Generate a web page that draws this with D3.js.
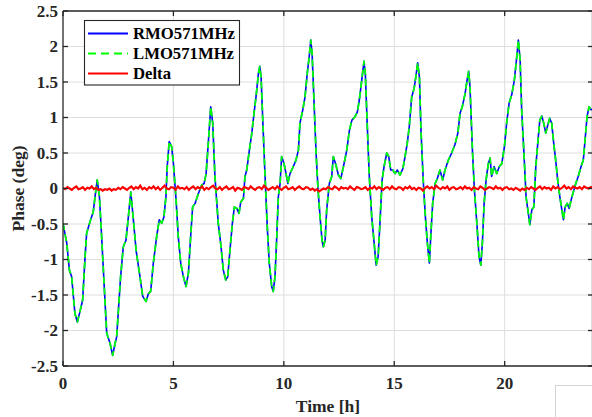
<!DOCTYPE html>
<html>
<head>
<meta charset="utf-8">
<script src="https://cdn.jsdelivr.net/npm/d3@7"></script>
<style>
  html, body { margin: 0; padding: 0; background: #fff; }
  svg { display: block; }
</style>
</head>
<body>
<svg id="chart" width="592" height="417"></svg>
<script>
// ---- data ----
const seriesNames = ["RMO571MHz", "LMO571MHz", "Delta"];
const xTicks = [0, 5, 10, 15, 20];
const yTicks = [-2.5, -2, -1.5, -1, -0.5, 0, 0.5, 1, 1.5, 2, 2.5];
const yTickLabels = ["-2.5", "-2", "-1.5", "-1", "-0.5", "0", "0.5", "1", "1.5", "2", "2.5"];

const phaseHours = [
  0.00,0.17,0.29,0.39,0.54,0.65,0.77,0.89,1.00,1.07,1.25,1.37,1.45,1.55,1.65,1.75,1.86,1.98,2.13,2.25,
  2.36,2.43,2.51,2.61,2.73,2.85,2.96,3.07,3.16,3.31,3.46,3.61,3.76,3.87,3.97,4.09,4.24,4.36,4.47,4.57,
  4.66,4.72,4.81,4.92,5.00,5.12,5.22,5.33,5.45,5.57,5.68,5.78,5.87,5.98,6.13,6.28,6.39,6.48,6.58,6.69,
  6.78,6.88,7.03,7.14,7.26,7.37,7.46,7.56,7.67,7.76,7.87,7.97,8.05,8.17,8.24,8.32,8.44,8.55,8.65,8.74,
  8.85,8.91,8.97,9.04,9.15,9.25,9.34,9.45,9.52,9.60,9.68,9.75,9.83,9.90,10.01,10.10,10.18,10.28,10.43,10.55,
  10.66,10.73,10.86,10.96,11.06,11.15,11.22,11.28,11.37,11.46,11.55,11.64,11.73,11.79,11.87,11.94,12.06,12.17,12.24,12.36,
  12.47,12.58,12.70,12.85,12.97,13.08,13.22,13.33,13.42,13.53,13.63,13.69,13.78,13.87,13.98,14.09,14.18,14.27,14.36,14.45,
  14.54,14.66,14.75,14.84,14.93,15.04,15.14,15.26,15.39,15.49,15.59,15.68,15.79,15.90,15.99,16.06,16.14,16.21,16.32,16.41,
  16.50,16.59,16.67,16.74,16.85,16.95,17.07,17.19,17.30,17.45,17.60,17.75,17.88,17.98,18.08,18.21,18.30,18.37,18.43,18.54,
  18.63,18.74,18.84,18.92,18.99,19.07,19.16,19.26,19.34,19.41,19.52,19.64,19.76,19.87,19.99,20.09,20.20,20.32,20.44,20.55,
  20.62,20.70,20.77,20.88,20.97,21.05,21.14,21.23,21.32,21.41,21.50,21.59,21.68,21.77,21.86,21.95,22.04,22.13,22.22,22.31,
  22.40,22.50,22.59,22.66,22.74,22.83,22.92,23.01,23.11,23.22,23.33,23.46,23.56,23.64,23.73,23.82,23.91,24.00
];
const rmoValues = [
  -0.49,-0.77,-1.15,-1.24,-1.76,-1.88,-1.73,-1.57,-0.96,-0.63,-0.44,-0.33,-0.12,0.12,-0.12,-0.68,-1.34,-2.04,-2.18,-2.35,
  -2.18,-2.09,-1.71,-1.24,-0.82,-0.73,-0.40,-0.05,-0.35,-0.87,-1.19,-1.52,-1.59,-1.48,-1.45,-1.05,-0.68,-0.44,-0.49,-0.40,
  -0.12,0.31,0.66,0.59,0.35,-0.16,-0.68,-1.05,-1.24,-1.38,-1.19,-0.68,-0.26,-0.21,-0.07,0.05,0.07,0.21,0.64,1.15,
  0.92,0.17,-0.49,-0.77,-1.15,-1.29,-1.24,-0.87,-0.49,-0.26,-0.28,-0.35,-0.19,-0.14,0.17,0.26,0.54,0.78,1.06,1.29,
  1.62,1.72,1.57,1.01,0.17,-0.54,-1.05,-1.38,-1.45,-1.24,-0.68,-0.12,0.07,0.45,0.35,0.21,0.07,0.21,0.31,0.40,
  0.54,0.92,1.11,1.29,1.62,1.86,2.09,1.90,1.20,0.50,-0.02,-0.40,-0.73,-0.82,-0.73,-0.30,0.07,0.17,0.45,0.33,
  0.19,0.14,0.31,0.54,0.82,0.96,1.01,1.08,1.25,1.53,1.79,1.62,0.87,0.17,-0.40,-0.77,-1.08,-0.96,-0.44,0.12,
  0.31,0.50,0.45,0.26,0.26,0.21,0.26,0.19,0.28,0.45,0.64,0.87,1.29,1.41,1.60,1.77,1.57,0.82,0.07,-0.40,
  -0.77,-1.05,-0.58,-0.21,0.07,0.14,0.26,0.12,0.26,0.40,0.50,0.62,0.78,1.06,1.15,1.34,1.53,1.65,1.43,0.54,
  -0.02,-0.49,-0.96,-1.08,-0.77,-0.21,0.12,0.35,0.43,0.17,0.31,0.21,0.31,0.35,0.59,0.92,1.20,1.32,1.53,1.86,
  2.09,1.81,1.11,0.45,-0.12,-0.30,-0.51,-0.30,-0.26,0.31,0.64,0.96,1.02,0.92,0.78,0.89,0.99,0.92,0.64,0.40,
  0.12,-0.12,-0.30,-0.44,-0.26,-0.21,-0.28,-0.16,-0.05,0.07,0.17,0.31,0.40,0.68,1.01,1.15,1.11,1.12
];
// LMO571MHz is indistinguishable from RMO571MHz in the picture
const lmoValues = rmoValues.slice();

// Delta sampled every 0.1 h from 0 to 24
const deltaStep = 0.1;
const deltaValues = [
  0.01,-0.01,0.02,0.00,-0.02,0.01,0.03,-0.01,0.00,0.02,-0.02,0.01,0.00,0.03,-0.01,0.01,-0.02,-0.01,-0.03,-0.01,
  -0.02,0.00,-0.03,-0.01,-0.02,0.01,-0.01,0.02,0.00,-0.02,0.01,0.03,-0.01,0.02,0.00,0.04,-0.01,0.01,-0.02,0.02,
  0.00,0.03,-0.01,0.02,-0.02,0.01,0.04,0.00,-0.01,0.02,0.01,-0.02,0.03,0.00,0.01,-0.01,0.02,-0.02,0.01,0.03,
  -0.01,0.02,0.00,0.03,-0.02,0.01,-0.01,0.02,0.04,0.00,-0.01,0.02,-0.02,0.01,0.03,-0.01,0.00,0.02,-0.03,0.01,
  0.00,-0.02,0.02,0.01,-0.01,0.03,0.00,-0.02,0.01,0.02,-0.01,0.04,0.01,-0.02,0.00,0.02,-0.01,0.03,0.00,-0.02,
  0.01,0.03,-0.01,0.00,0.02,-0.02,0.01,0.03,0.00,-0.01,0.02,0.01,-0.02,0.00,-0.03,-0.01,-0.04,-0.02,0.00,-0.01,
  0.02,0.00,-0.01,0.03,0.01,-0.02,0.02,0.00,0.01,-0.01,0.03,0.00,-0.02,0.02,0.01,-0.01,0.00,0.02,-0.02,0.01,
  0.00,0.03,-0.01,0.02,0.00,-0.02,0.01,0.02,-0.01,0.03,0.00,-0.01,0.02,0.01,-0.02,0.02,0.00,0.03,-0.01,0.01,
  -0.02,0.01,0.00,-0.03,0.01,0.03,0.00,0.02,-0.01,0.04,0.01,-0.01,0.02,0.00,0.03,-0.02,0.01,0.02,-0.01,0.00,
  0.02,-0.01,0.03,0.00,0.01,-0.02,0.02,0.00,-0.01,0.03,0.01,-0.02,0.00,0.02,0.01,-0.01,0.03,0.00,0.01,-0.02,
  0.01,0.02,-0.01,0.00,-0.02,0.01,-0.01,-0.03,0.00,-0.02,0.01,-0.01,0.02,0.00,-0.02,0.01,0.03,-0.01,0.02,0.00,
  0.01,-0.02,0.03,0.00,0.02,-0.01,0.01,0.04,0.00,0.02,-0.01,0.03,0.01,0.00,0.02,-0.01,0.03,0.01,0.00,0.02,
  0.01
];

// ---- drawing ----
const W = 592, H = 417;
const L = 63, R = 593, T = 11, B = 366;
const axisColor = "#262626";
const font = "'Liberation Serif', 'Times New Roman', serif";

const svg = d3.select("#chart");
svg.append("rect").attr("width", W).attr("height", H).attr("fill", "#fff");

const x = d3.scaleLinear().domain([0, 24]).range([L, R]);
const y = d3.scaleLinear().domain([-2.5, 2.5]).range([B, T]);

// grid
const grid = svg.append("g").attr("stroke", "#dedede").attr("stroke-width", 1);
grid.selectAll("line.gx").data(xTicks.filter(d => d > 0)).enter().append("line")
  .attr("x1", d => x(d)).attr("x2", d => x(d)).attr("y1", T).attr("y2", B);
grid.selectAll("line.gy").data(yTicks.filter(d => d > -2.5 && d < 2.5)).enter().append("line")
  .attr("y1", d => y(d)).attr("y2", d => y(d)).attr("x1", L).attr("x2", R);

// data lines
const rmoData = phaseHours.map((h, i) => [h, rmoValues[i]]);
const lmoData = phaseHours.map((h, i) => [h, lmoValues[i]]);
const deltaData = deltaValues.map((v, i) => [i * deltaStep, v]);
const line = d3.line().x(d => x(d[0])).y(d => y(d[1]));

svg.append("clipPath").attr("id", "clip").append("rect")
  .attr("x", L).attr("y", T).attr("width", R - L).attr("height", B - T);
const plot = svg.append("g").attr("clip-path", "url(#clip)");

plot.append("path").datum(rmoData).attr("d", line)
  .attr("fill", "none").attr("stroke", "#0000ff").attr("stroke-width", 1.6)
  .attr("stroke-linejoin", "round");
plot.append("path").datum(lmoData).attr("d", line)
  .attr("fill", "none").attr("stroke", "#00ff00").attr("stroke-width", 1.8)
  .attr("stroke-dasharray", "7,4").attr("stroke-linejoin", "round");
plot.append("path").datum(deltaData).attr("d", line)
  .attr("fill", "none").attr("stroke", "#ff0000").attr("stroke-width", 2.1)
  .attr("stroke-linejoin", "miter");

// axes box
const ax = svg.append("g").attr("stroke", axisColor).attr("stroke-width", 1.3).attr("fill", "none");
ax.append("line").attr("x1", L).attr("x2", R).attr("y1", B).attr("y2", B);
ax.append("line").attr("x1", L).attr("x2", R).attr("y1", T).attr("y2", T);
ax.append("line").attr("x1", L).attr("x2", L).attr("y1", T).attr("y2", B);
ax.append("line").attr("x1", R - 0.5).attr("x2", R - 0.5).attr("y1", T).attr("y2", B);

// ticks (inward)
const tl = 5;
ax.selectAll("line.xtb").data(xTicks).enter().append("line")
  .attr("x1", d => x(d)).attr("x2", d => x(d)).attr("y1", B).attr("y2", B - tl);
ax.selectAll("line.xtt").data(xTicks).enter().append("line")
  .attr("x1", d => x(d)).attr("x2", d => x(d)).attr("y1", T).attr("y2", T + tl);
ax.selectAll("line.ytl").data(yTicks).enter().append("line")
  .attr("y1", d => y(d)).attr("y2", d => y(d)).attr("x1", L).attr("x2", L + tl);
ax.selectAll("line.ytr").data(yTicks).enter().append("line")
  .attr("y1", d => y(d)).attr("y2", d => y(d)).attr("x1", R - tl).attr("x2", R);

// tick labels
svg.append("g").selectAll("text").data(xTicks).enter().append("text")
  .attr("x", d => x(d)).attr("y", 389)
  .attr("text-anchor", "middle").attr("font-family", font).attr("font-weight", "bold")
  .attr("font-size", 17).attr("fill", axisColor).text(d => String(d));
svg.append("g").selectAll("text").data(yTicks).enter().append("text")
  .attr("x", 58).attr("y", d => y(d)).attr("dy", "0.33em")
  .attr("text-anchor", "end").attr("font-family", font).attr("font-weight", "bold")
  .attr("font-size", 17).attr("fill", axisColor).text((d, i) => yTickLabels[i]);

// axis titles
svg.append("text").attr("x", (L + R) / 2).attr("y", 412)
  .attr("text-anchor", "middle").attr("font-family", font).attr("font-weight", "bold")
  .attr("font-size", 17.5).attr("fill", axisColor).text("Time [h]");
svg.append("text").attr("transform", "translate(24," + ((T + B) / 2) + ") rotate(-90)")
  .attr("text-anchor", "middle").attr("font-family", font).attr("font-weight", "bold")
  .attr("font-size", 17.5).attr("fill", axisColor).text("Phase (deg)");

// legend
const lg = svg.append("g");
lg.append("rect").attr("x", 84.5).attr("y", 20.5).attr("width", 155).attr("height", 64.5)
  .attr("fill", "#fff").attr("stroke", axisColor).attr("stroke-width", 1.1);
const legendStyles = [
  { color: "#0000ff", dash: null },
  { color: "#00ff00", dash: "8,5" },
  { color: "#ff0000", dash: null }
];
seriesNames.forEach((name, i) => {
  const cy = 33.5 + i * 20;
  lg.append("line").attr("x1", 88).attr("x2", 128).attr("y1", cy).attr("y2", cy)
    .attr("stroke", legendStyles[i].color).attr("stroke-width", 1.8)
    .attr("stroke-dasharray", legendStyles[i].dash);
  lg.append("text").attr("x", 133).attr("y", cy).attr("dy", "0.35em")
    .attr("font-family", font).attr("font-weight", "bold").attr("font-size", 16.7)
    .attr("fill", "#000").text(name);
});

// faint box at bottom-right corner
svg.append("rect").attr("x", 555.5).attr("y", 385.5).attr("width", 60).attr("height", 60)
  .attr("fill", "#fff").attr("stroke", "#d4d4d4").attr("stroke-width", 1);
</script>
</body>
</html>
